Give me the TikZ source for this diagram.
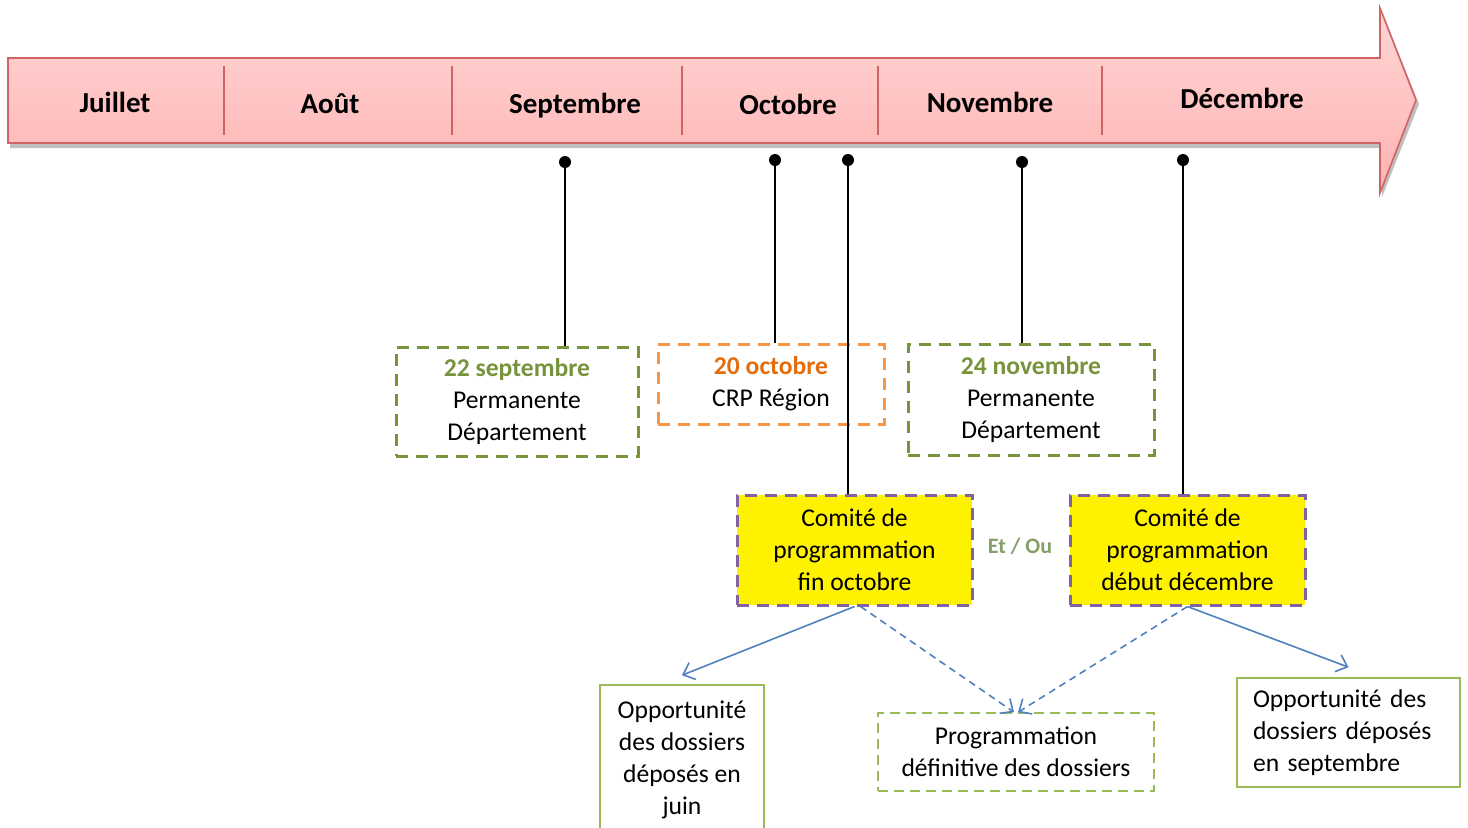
\documentclass[tikz,border=0pt]{standalone}
\usepackage{fontspec}
\setmainfont{Carlito}
\usetikzlibrary{arrows.meta}
\definecolor{arrowred}{HTML}{D06464}
\definecolor{pinktop}{HTML}{FFD6D6}
\definecolor{pinkbot}{HTML}{FFB2B2}
\definecolor{olive}{HTML}{77933C}
\definecolor{lgreen}{HTML}{9BBB59}
\definecolor{orng}{HTML}{F79646}
\definecolor{orngtxt}{HTML}{E46C0A}
\definecolor{purp}{HTML}{8064A2}
\definecolor{blu}{HTML}{4F81BD}
\definecolor{etou}{HTML}{84A068}
\tikzset{
  month/.style={font=\fontsize{14.5}{17}\selectfont\bfseries},
  txt/.style={font=\fontsize{12.8}{16}\selectfont, align=center, inner sep=0pt},
  datebox/.style={txt, draw=olive, line width=1.5pt, dash pattern=on 6pt off 4pt},
  orbox/.style={txt, draw=orng, line width=1.5pt, dash pattern=on 6pt off 4pt},
  combox/.style={txt, draw=purp, fill=yellow, line width=1.5pt, dash pattern=on 6pt off 4pt, minimum width=117.5pt, minimum height=55pt},
  resbox/.style={txt, draw=lgreen, line width=0.8pt},
  dot/.style={circle, fill=black, inner sep=0pt, minimum size=6pt},
  link/.style={line width=1pt},
  flow/.style={draw=blu, line width=0.8pt, -{Straight Barb[length=5pt,width=9pt]}},
  dflow/.style={flow, dash pattern=on 3.5pt off 2.5pt},
  divider/.style={draw=arrowred, line width=0.8pt}
}
\begin{document}
\begin{tikzpicture}[x=0.5pt,y=-0.5pt]
\useasboundingbox (0,0) rectangle (1468,827);
\clip (0,0) rectangle (1468,827);
% shadow
\fill[gray!50] (10,62) -- (1382,62) -- (1382,12) -- (1419,104) -- (1382,197) -- (1382,148) -- (10,148) -- cycle;
% timeline arrow
\shade[top color=pinktop, bottom color=pinkbot, draw=arrowred, line width=0.8pt]
  (8,58) -- (1380,58) -- (1380,8) -- (1416,100) -- (1380,193) -- (1380,143) -- (8,143) -- cycle;
\foreach \x in {224,452,682,878,1102} \draw[divider] (\x,66) -- (\x,135);
\node[month] (m1) at (115,102) {Juillet};
\node[month] (m2) at (330,104) {Août};
\node[month] (m3) at (575,106) {Septembre};
\node[month] (m4) at (788,104) {Octobre};
\node[month] (m5) at (990,102) {Novembre};
\node[month] (m6) at (1242,98) {Décembre};
% dots
\node[dot] (d1) at (565,162) {};
\node[dot] (d2) at (775,160) {};
\node[dot] (d3) at (848,160) {};
\node[dot] (d4) at (1022,162) {};
\node[dot] (d5) at (1183,160) {};
% boxes
\node[datebox, minimum width=121pt, minimum height=54.5pt] (sep) at (517,401.5)
  {\textcolor{olive}{\bfseries 22 septembre}\\Permanente\\Département};
\node[orbox, minimum width=113pt, minimum height=40pt] (oct) at (771,384)
  {\textcolor{orngtxt}{\bfseries 20 octobre}\\CRP Région};
\node[datebox, minimum width=123pt, minimum height=55.5pt] (nov) at (1031,399.5)
  {\textcolor{olive}{\bfseries 24 novembre}\\Permanente\\Département};
\node[combox] (c1) at (854.5,550) {Comité de\\programmation\\fin octobre};
\node[combox] (c2) at (1187.5,550) {Comité de\\programmation\\début décembre};
\node[font=\fontsize{11}{13}\selectfont\bfseries, text=etou] (eo) at (1020,546) {Et / Ou};
\node[resbox, minimum width=82pt, minimum height=75pt] (juin) at (682,760)
  {Opportunité\\des dossiers\\déposés en\\juin};
\node[resbox, dash pattern=on 5pt off 3pt, minimum width=138pt, minimum height=39pt] (prog) at (1016,752)
  {Programmation\\définitive des dossiers};
\node[resbox, align=left, text width=95.5pt, inner xsep=8pt, minimum height=54.5pt] (sept) at (1348.5,732.5)
  {Opportunité des\\dossiers déposés\\en septembre};
% connectors
\draw[link] (d1) -- (d1 |- sep.north);
\draw[link] (d2) -- (d2 |- oct.north);
\draw[link] (d3) -- (d3 |- c1.north);
\draw[link] (d4) -- (d4 |- nov.north);
\draw[link] (d5) -- (d5 |- c2.north);
\draw[flow] (c1.south) -- ([yshift=4.5pt]juin.north);
\draw[dflow] ([xshift=3pt]c1.south) -- ([xshift=-1pt]prog.north);
\draw[dflow] (c2.south) -- ([xshift=1pt]prog.north);
\draw[flow] (c2.south) -- ([yshift=5pt]sept.north);
\end{tikzpicture}
\end{document}
